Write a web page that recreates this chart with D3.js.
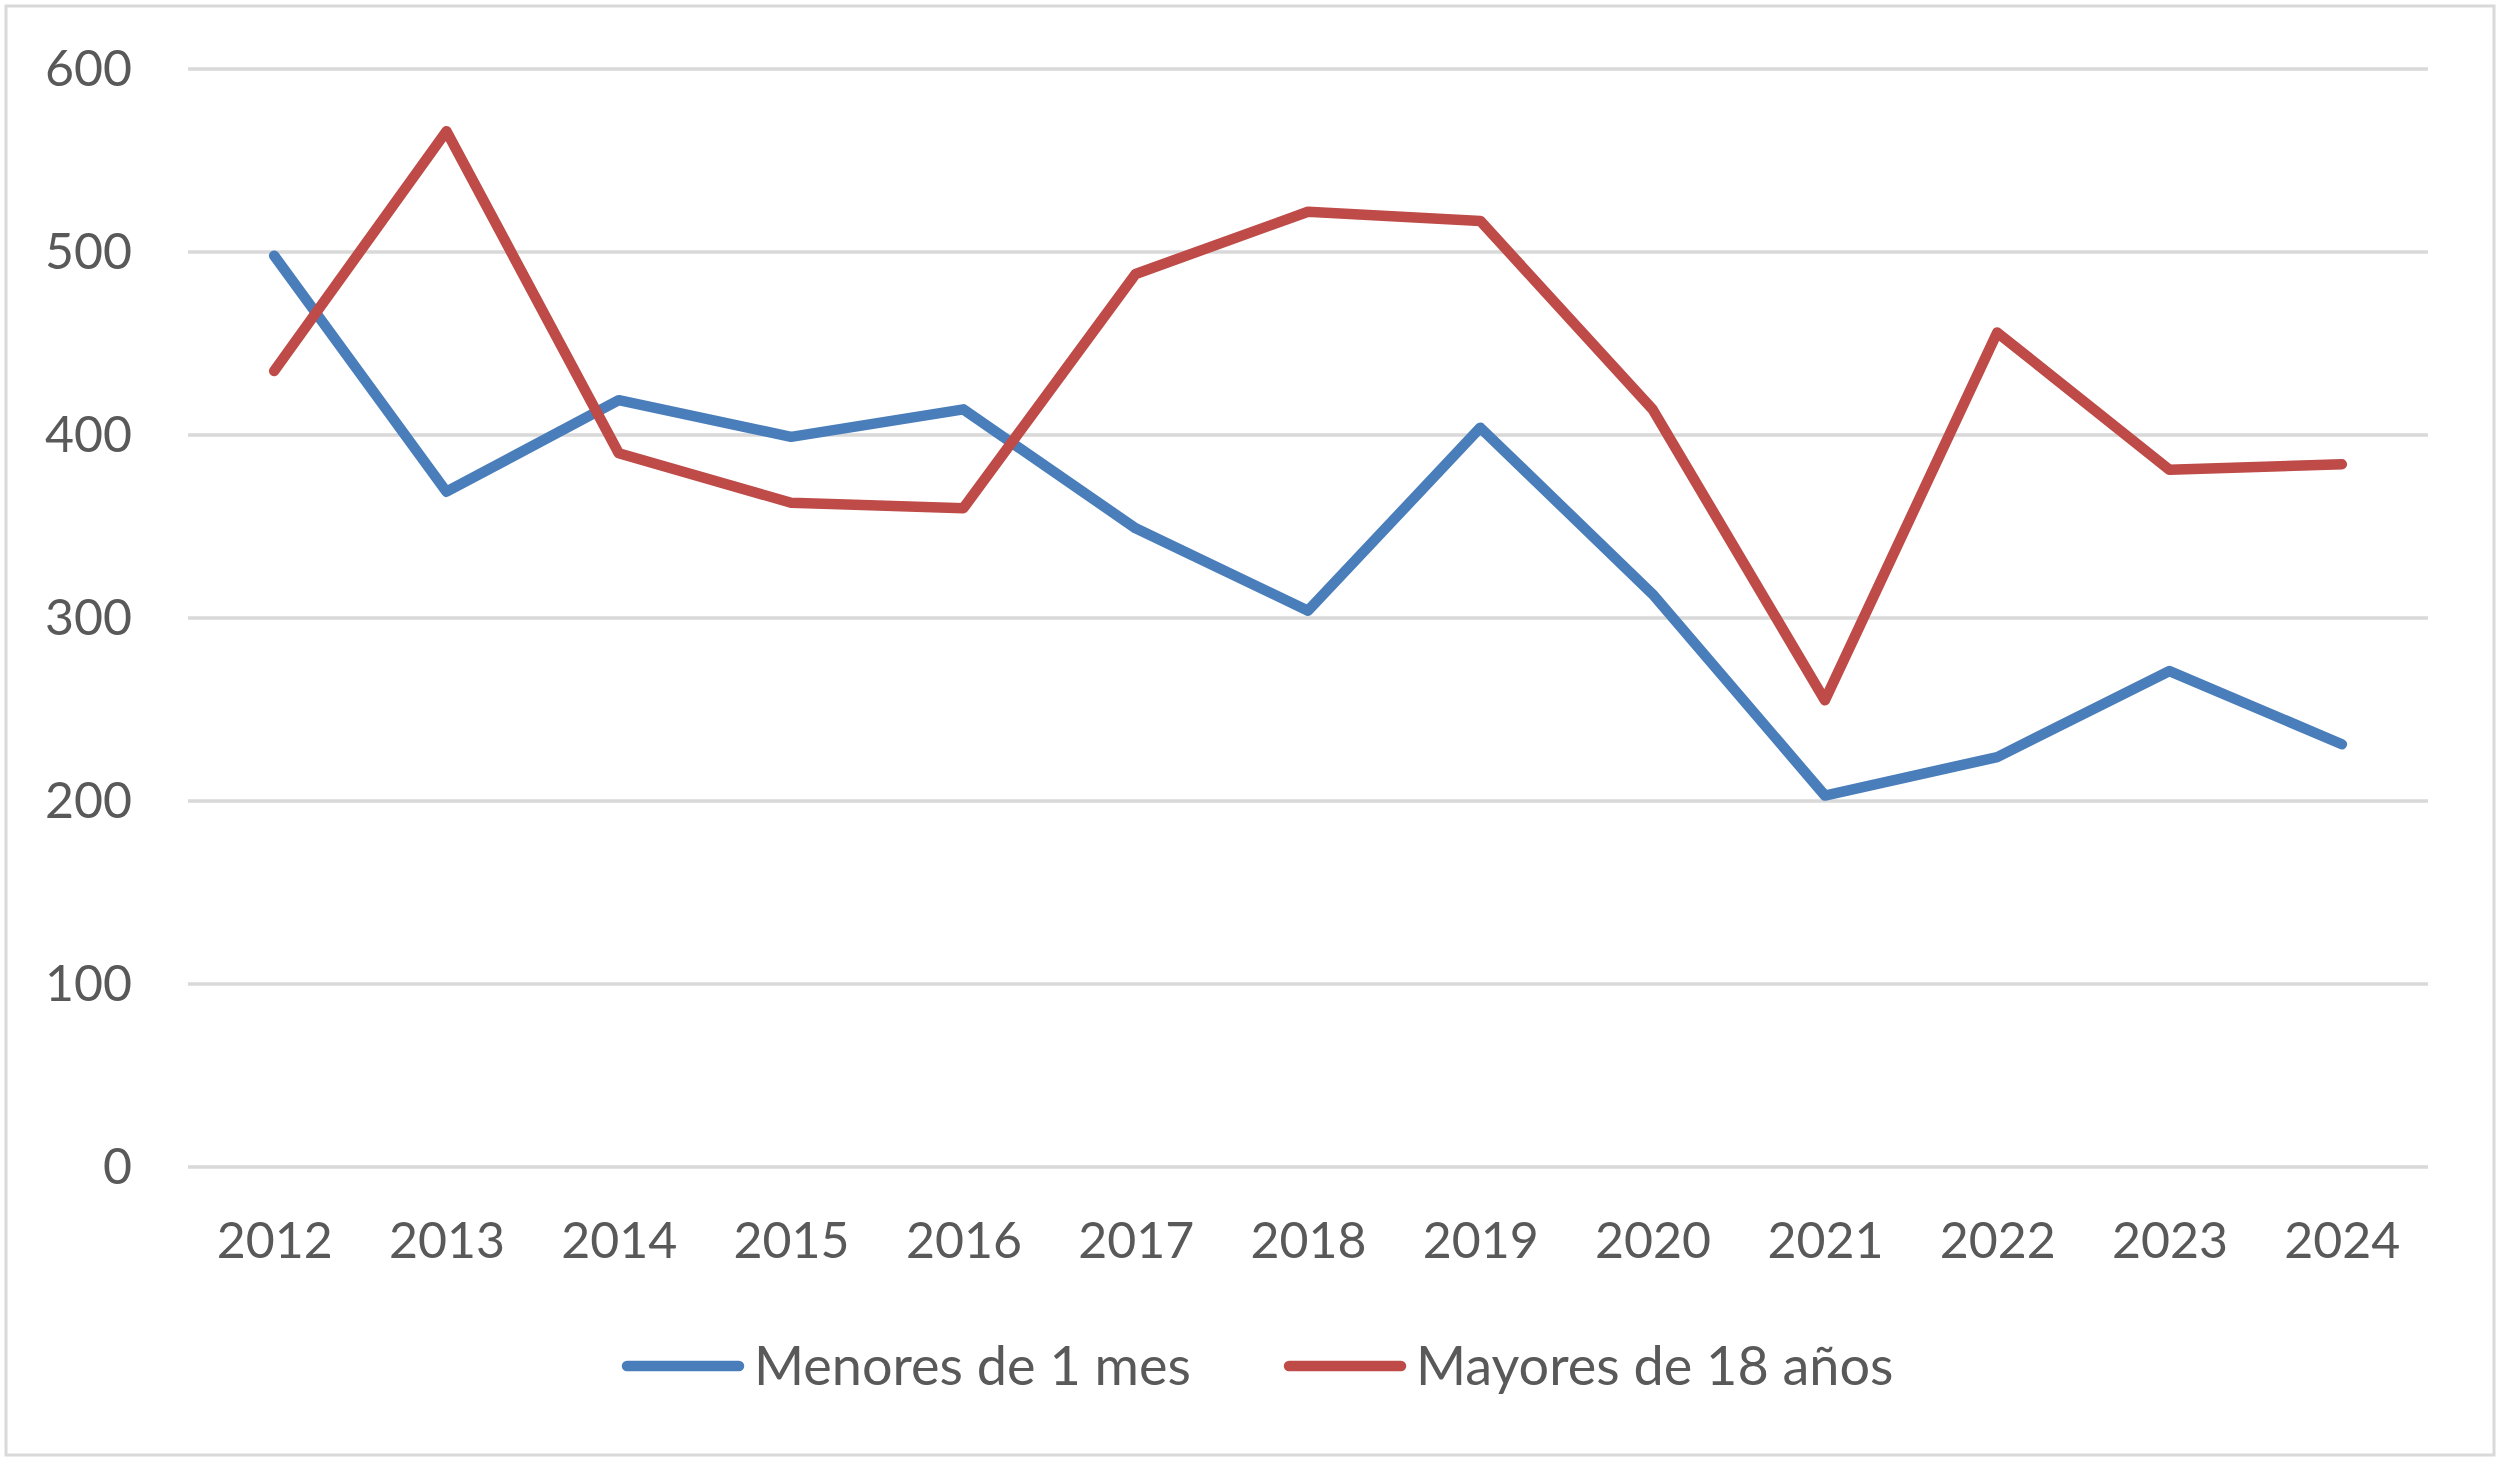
<!DOCTYPE html>
<html>
<head>
<meta charset="utf-8">
<script src="https://cdn.jsdelivr.net/npm/d3@7"></script>
<style>
  body { margin: 0; background: #fff; }
  text { font-family: Lato, "Open Sans", sans-serif; fill: #595959; }
</style>
</head>
<body>
<div id="chart"></div>
<script>
const years = ["2012", "2013", "2014", "2015", "2016", "2017", "2018", "2019", "2020", "2021", "2022", "2023", "2024"];
const menores = [498, 369, 419, 399, 414, 349, 304, 404, 313, 203, 224, 271, 231];
const mayores = [435, 566, 390, 363, 360, 488, 522, 517, 414, 255, 456, 381, 384];
const yTicks = [0, 100, 200, 300, 400, 500, 600];
const seriesNames = ["Menores de 1 mes", "Mayores de 18 años"];
const seriesColors = ["#4a7ebb", "#be4b48"];

const W = 2500, H = 1461;
const margin = {left: 188, right: 72, top: 69, bottom: 294};

const svg = d3.select("#chart")
    .append("svg")
    .attr("width", W)
    .attr("height", H);

// outer frame
svg.append("rect")
    .attr("x", 6)
    .attr("y", 6)
    .attr("width", W - 12)
    .attr("height", H - 12)
    .attr("fill", "#fff")
    .attr("stroke", "#d9d9d9")
    .attr("stroke-width", 3);

const x = d3.scalePoint()
    .domain(years)
    .range([margin.left, W - margin.right])
    .padding(0.5);

const y = d3.scaleLinear()
    .domain([0, 600])
    .range([H - margin.bottom, margin.top]);

// gridlines
svg.append("g")
    .selectAll("line")
    .data(yTicks)
    .enter().append("line")
    .attr("x1", margin.left)
    .attr("x2", W - margin.right)
    .attr("y1", d => y(d))
    .attr("y2", d => y(d))
    .attr("stroke", "#d9d9d9")
    .attr("stroke-width", 3.5);

// y axis labels
const yAxis = svg.append("g")
    .attr("transform", `translate(${margin.left - 56},0)`)
    .call(d3.axisLeft(y).tickValues(yTicks).tickSize(0).tickPadding(0));
yAxis.select(".domain").remove();
yAxis.selectAll("text")
    .style("font-size", "50px")
    .attr("fill", "#595959")
    .attr("font-family", "Lato, 'Open Sans', sans-serif");

// x axis labels
const xAxis = svg.append("g")
    .attr("transform", `translate(0,${H - margin.bottom})`)
    .call(d3.axisBottom(x).tickSize(0).tickPadding(55));
xAxis.select(".domain").remove();
xAxis.selectAll("text")
    .style("font-size", "50px")
    .attr("fill", "#595959")
    .attr("font-family", "Lato, 'Open Sans', sans-serif");

const line = d3.line()
    .x((d, i) => x(years[i]))
    .y(d => y(d));

[menores, mayores].forEach((vals, k) => {
    svg.append("path")
        .datum(vals)
        .attr("fill", "none")
        .attr("stroke", seriesColors[k])
        .attr("stroke-width", 10.5)
        .attr("stroke-linejoin", "round")
        .attr("stroke-linecap", "round")
        .attr("d", line);
});

// Legend
const legendY = 1366;
const legendX = [627, 1289];
const legend = svg.selectAll(".legend")
    .data(seriesNames)
    .enter().append("g")
    .attr("class", "legend")
    .attr("transform", (d, i) => `translate(${legendX[i]},${legendY})`);

legend.append("line")
    .attr("x1", 0)
    .attr("x2", 112)
    .attr("stroke", (d, i) => seriesColors[i])
    .attr("stroke-width", 10.5)
    .attr("stroke-linecap", "round");

legend.append("text")
    .attr("x", 127)
    .attr("dy", "0.35em")
    .style("font-size", "54px")
    .text(d => d);
</script>
</body>
</html>
